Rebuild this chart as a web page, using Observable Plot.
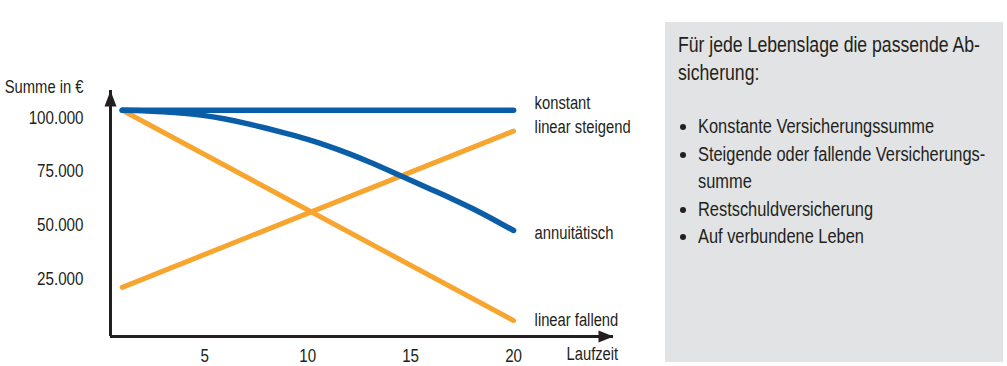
<!DOCTYPE html>
<html>
<head>
<meta charset="utf-8">
<script src="https://cdn.jsdelivr.net/npm/d3@7"></script>
<script src="https://cdn.jsdelivr.net/npm/@observablehq/plot@0.6"></script>
<style>
  html, body { margin: 0; padding: 0; background: #fff; }
  #wrap { position: relative; width: 1007px; height: 366px; overflow: hidden;
          font-family: "Liberation Sans", Arial, sans-serif; color: #231f20; }
  #chart { position: absolute; left: 0; top: 0; }
  #box { position: absolute; left: 665px; top: 22px; width: 338px; height: 340px; background: #e2e3e4;
         box-sizing: border-box; padding: 9px 0 0 13px; }
  #box .line { display: block; white-space: nowrap; }
  #box .line span { display: inline-block; transform: scaleX(0.82); transform-origin: 0 0; }
  #box .head { font-size: 21.5px; line-height: 28px; }
  #box ul { list-style: none; margin: 26px 0 0 0; padding: 0; font-size: 20px; line-height: 27.5px; }
  #box li { position: relative; padding-left: 20px; }
  #box li::before { content: ""; position: absolute; left: 2px; top: 11px; width: 6px; height: 6px;
                    border-radius: 50%; background: #231f20; }
</style>
</head>
<body>
<div id="wrap">
  <div id="chart"></div>
  <div id="box"></div>
</div>
<script>
// ---- data ----
const annuityYears = [1, 2, 3, 4, 5, 6, 7, 8, 9, 10, 11, 12, 13, 14, 15, 16, 17, 18, 19, 20];
const annuitaetisch = [103500, 103300, 102800, 102100, 101000, 99400, 97400, 95100, 92600, 89900,
                       86800, 83300, 79400, 75200, 70900, 66600, 62300, 57700, 52700, 47500];
const linearYears = [1, 20];
const konstant = [103500, 103500];
const linearSteigend = [21000, 93800];
const linearFallend = [103500, 5500];

const seriesNames = ["konstant", "linear steigend", "annuitätisch", "linear fallend"];
const xTicks = [5, 10, 15, 20];
const yTicks = [25000, 50000, 75000, 100000];
const yLabel = "Summe in €";
const xLabel = "Laufzeit";

const boxTitle = ["Für jede Lebenslage die passende Ab-", "sicherung:"];
const boxItems = [["Konstante Versicherungssumme"],
                  ["Steigende oder fallende Versicherungs-", "summe"],
                  ["Restschuldversicherung"],
                  ["Auf verbundene Leben"]];

// ---- build ----
const blue = "#0a5ea8", orange = "#f8a530", ink = "#231f20";
const font = "'Liberation Sans', Arial, sans-serif";
const narrow = 0.82;

const toRows = (xs, ys, name) => xs.map((x, i) => ({year: x, value: ys[i], name}));
const rowsKonstant = toRows(linearYears, konstant, seriesNames[0]);
const rowsSteigend = toRows(linearYears, linearSteigend, seriesNames[1]);
const rowsAnnuitaet = toRows(annuityYears, annuitaetisch, seriesNames[2]);
const rowsFallend = toRows(linearYears, linearFallend, seriesNames[3]);

const xDomain = [0.43, 24.85];
const yDomain = [-1900, 112700];

const de = d3.formatLocale({decimal: ",", thousands: ".", grouping: [3], currency: ["", " €"]});
const fmt = de.format(",");

const arrowUp = {draw(ctx) { ctx.moveTo(0, 0); ctx.lineTo(6, 16); ctx.lineTo(-6, 16); ctx.closePath(); }};
const arrowRight = {draw(ctx) { ctx.moveTo(0, 0); ctx.lineTo(-15, -6); ctx.lineTo(-15, 6); ctx.closePath(); }};

const last = rows => rows[rows.length - 1];
const label = (rows, dy) => Plot.text([last(rows)], {
  x: "year", y: "value", text: "name", textAnchor: "start", dx: 21, dy,
  fontSize: 18, fill: ink
});

const chart = Plot.plot({
  width: 660,
  height: 366,
  marginLeft: 110,
  marginRight: 47,
  marginTop: 90,
  marginBottom: 30,
  style: {fontFamily: font, fontSize: "18.5px", color: ink, background: "transparent", overflow: "visible"},
  x: {domain: xDomain, ticks: xTicks, tickSize: 0, tickPadding: 12, label: null},
  y: {domain: yDomain, ticks: yTicks, tickFormat: fmt, tickSize: 0, tickPadding: 27, label: null},
  marks: [
    Plot.ruleX([xDomain[0]], {stroke: ink, strokeWidth: 3}),
    Plot.ruleY([yDomain[0]], {stroke: ink, strokeWidth: 3}),
    Plot.dot([{x: xDomain[0], y: yDomain[1]}], {x: "x", y: "y", symbol: arrowUp, fill: ink, stroke: "none"}),
    Plot.dot([{x: xDomain[1], y: yDomain[0]}], {x: "x", y: "y", symbol: arrowRight, fill: ink, stroke: "none"}),
    Plot.line(rowsSteigend, {x: "year", y: "value", stroke: orange, strokeWidth: 5, strokeLinecap: "round"}),
    Plot.line(rowsFallend, {x: "year", y: "value", stroke: orange, strokeWidth: 5, strokeLinecap: "round"}),
    Plot.line(rowsAnnuitaet, {x: "year", y: "value", stroke: blue, strokeWidth: 5.5, strokeLinecap: "round", curve: "natural"}),
    Plot.line(rowsKonstant, {x: "year", y: "value", stroke: blue, strokeWidth: 5.5, strokeLinecap: "round"}),
    label(rowsKonstant, -7),
    label(rowsSteigend, -4),
    label(rowsAnnuitaet, 3),
    label(rowsFallend, 0),
    Plot.text([yLabel], {x: xDomain[0], y: yDomain[1], text: d => d, textAnchor: "end", dx: -27, dy: -3, fontSize: 18, fill: ink}),
    Plot.text([xLabel], {x: xDomain[1], y: yDomain[0], text: d => d, textAnchor: "start", dx: -47, dy: 18, fontSize: 18, fill: ink})
  ]
});
document.getElementById("chart").appendChild(chart);

// condense the chart's texts (no condensed face is installed)
chart.querySelectorAll("text").forEach(t => {
  const w = t.getComputedTextLength();
  if (w > 0) {
    t.setAttribute("textLength", (w * narrow).toFixed(2));
    t.setAttribute("lengthAdjust", "spacingAndGlyphs");
  }
});

// ---- side box ----
const box = document.getElementById("box");
const mkLine = t => { const d = document.createElement("div"); d.className = "line";
  const s = document.createElement("span"); s.textContent = t; d.appendChild(s); return d; };
const head = document.createElement("div");
head.className = "head";
boxTitle.forEach(t => head.appendChild(mkLine(t)));
box.appendChild(head);
const ul = document.createElement("ul");
boxItems.forEach(lines => {
  const li = document.createElement("li");
  lines.forEach(t => li.appendChild(mkLine(t)));
  ul.appendChild(li);
});
box.appendChild(ul);
</script>
</body>
</html>
